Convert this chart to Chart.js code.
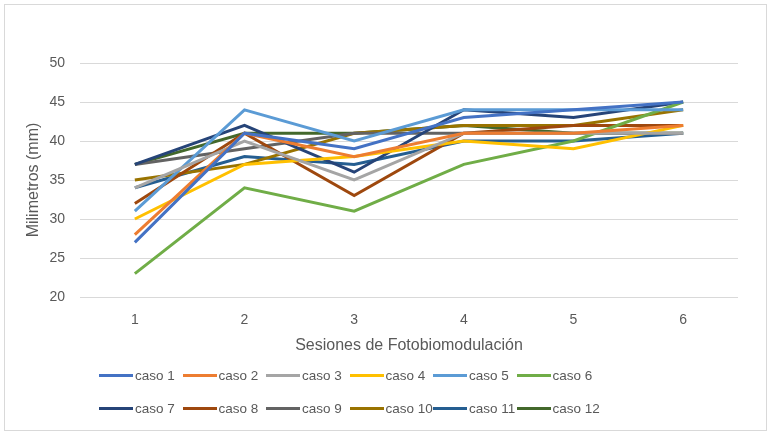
<!DOCTYPE html>
<html>
<head>
<meta charset="utf-8">
<script src="https://cdn.jsdelivr.net/npm/chart.js@4.4.1/dist/chart.umd.min.js"></script>
<style>
  body { margin: 0; background: #fff; }
  #wrap { position: relative; width: 771px; height: 435px; }
  #frame {
    position: absolute; left: 4px; top: 4px; width: 763px; height: 427px;
    border: 1px solid #d9d9d9; box-sizing: border-box; pointer-events: none;
  }
  #legend {
    position: absolute; left: 99px; top: 364px;
    display: grid; grid-template-columns: repeat(6, 83.5px); row-gap: 11px;
    font: 13.5px "Liberation Sans", Arial, sans-serif; color: #595959;
  }
  .item { display: flex; align-items: center; height: 22px; white-space: nowrap; }
  .swatch { width: 34px; height: 3px; margin-right: 2px; }
</style>
</head>
<body>
<div id="wrap">
  <canvas id="chart" width="771" height="435"></canvas>
  <div id="legend"></div>
  <div id="frame"></div>
</div>
<script>
// sessions on the x axis
const sessions = ['1', '2', '3', '4', '5', '6'];

// millimetres per case
const caso1 = [27, 41, 39, 43, 44, 45];
const caso2 = [28, 41, 38, 41, 41, 42];
const caso3 = [34, 40, 35, 41, 41, 41];
const caso4 = [30, 37, 38, 40, 39, 42];
const caso5 = [31, 44, 40, 44, 44, 44];
const caso6 = [23, 34, 31, 37, 40, 45];
const caso7 = [37, 42, 36, 44, 43, 45];
const caso8 = [32, 41, 33, 41, 42, 42];
const caso9 = [37, 39, 41, 41, 41, 41];
const caso10 = [35, 37, 41, 42, 42, 44];
const caso11 = [34, 38, 37, 40, 40, 41];
const caso12 = [37, 41, 41, 42, 41, 41];

const seriesNames = ['caso 1', 'caso 2', 'caso 3', 'caso 4', 'caso 5', 'caso 6',
                     'caso 7', 'caso 8', 'caso 9', 'caso 10', 'caso 11', 'caso 12'];
const seriesValues = [caso1, caso2, caso3, caso4, caso5, caso6,
                      caso7, caso8, caso9, caso10, caso11, caso12];
const seriesColors = ['#4472C4', '#ED7D31', '#A5A5A5', '#FFC000', '#5B9BD5', '#70AD47',
                      '#264478', '#9E480E', '#636363', '#997300', '#255E91', '#43682B'];

const yTicks = [20, 25, 30, 35, 40, 45, 50];

const textColor = '#595959';
const fontFamily = '"Liberation Sans", Arial, sans-serif';

var datasets = seriesNames.map((name, i) => ({
  label: name,
  data: seriesValues[i],
  borderColor: seriesColors[i],
  backgroundColor: seriesColors[i],
  borderWidth: 3,
  pointRadius: 0,
  tension: 0,
  fill: false,
}));

var ctx = document.getElementById('chart').getContext('2d');

var chart = new Chart(ctx, {
  type: 'line',
  data: { labels: sessions, datasets: datasets },
  options: {
    responsive: false,
    animation: false,
    layout: {
      padding: { top: 63, right: 33, bottom: 78, left: 0 },
    },
    plugins: {
      legend: { display: false },
      tooltip: { enabled: false },
    },
    scales: {
      x: {
        offset: true,
        grid: { display: false },
        border: { display: false },
        ticks: {
          color: textColor,
          font: { family: fontFamily, size: 14 },
          padding: 7,
        },
        title: {
          display: true,
          text: 'Sesiones de Fotobiomodulación',
          color: textColor,
          font: { family: fontFamily, size: 16 },
          padding: { top: 0, bottom: 2 },
        },
        afterFit: scale => { scale.height = 60; },
      },
      y: {
        min: yTicks[0],
        max: yTicks[yTicks.length - 1],
        afterBuildTicks: scale => {
          scale.ticks = yTicks.map(v => ({ value: v }));
        },
        grid: { color: '#d9d9d9', lineWidth: 1, drawTicks: false },
        border: { display: false },
        ticks: {
          color: textColor,
          font: { family: fontFamily, size: 14 },
          padding: 15,
        },
        title: {
          display: true,
          text: 'Milimetros (mm)',
          color: textColor,
          font: { family: fontFamily, size: 16 },
          padding: { top: 24, bottom: 0 },
        },
        afterFit: scale => { scale.width = 80; },
      },
    },
  },
});

// legend in the page, six columns like the original
var legendBox = document.getElementById('legend');
chart.data.datasets.forEach(ds => {
  var item = document.createElement('div');
  item.className = 'item';
  var sw = document.createElement('span');
  sw.className = 'swatch';
  sw.style.background = ds.borderColor;
  var txt = document.createElement('span');
  txt.textContent = ds.label;
  item.appendChild(sw);
  item.appendChild(txt);
  legendBox.appendChild(item);
});
</script>
</body>
</html>
